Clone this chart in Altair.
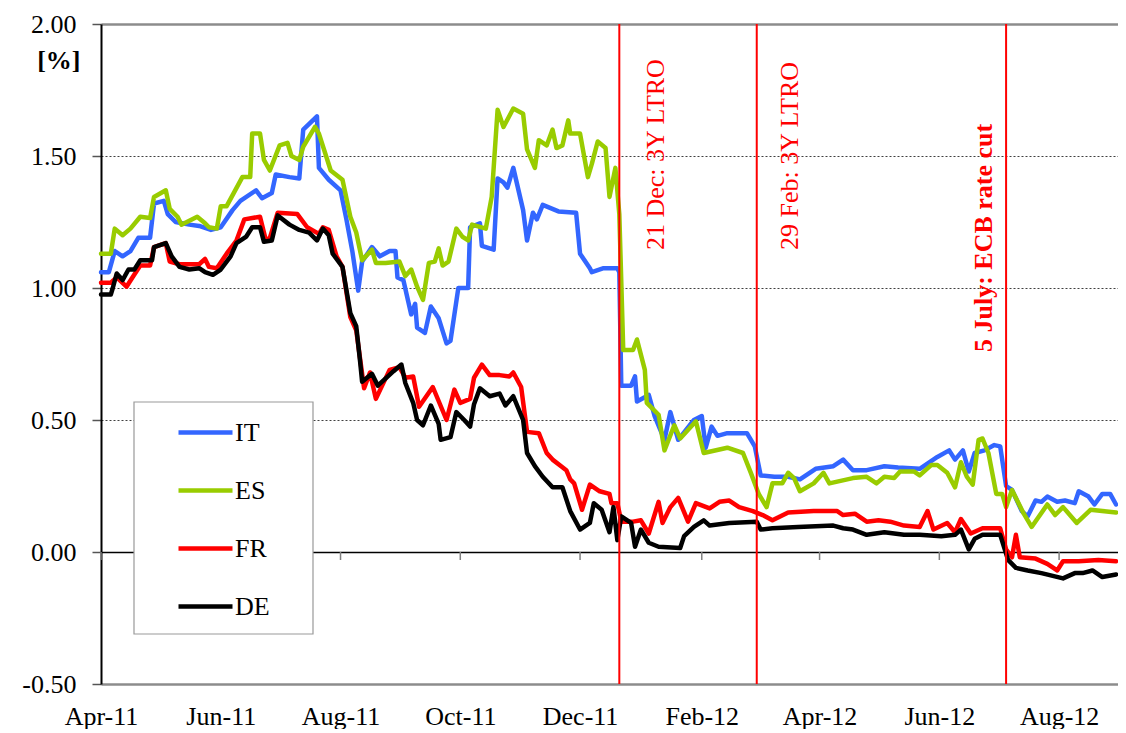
import altair as alt
import pandas as pd

FONT = "Liberation Serif"
START = "2011-04-01"
SERIES = ["IT", "ES", "FR", "DE"]
COLORS = ["#3366FF", "#99CC00", "#FF0000", "#000000"]

# (days after 1 Apr 2011, yield in %)
it_pts = [(0,1.06),(4,1.06),(7,1.14),(11,1.12),(15,1.14),(19,1.19),(25,1.19),(27,1.32),(32,1.33),(34,1.28),
          (38,1.25),(45,1.24),(50,1.235),(56,1.22),(61,1.23),(67,1.295),(71,1.33),(79,1.37),(82,1.34),(87,1.36),
          (89,1.43),(96,1.42),(101,1.415),(103,1.60),(110,1.65),(111,1.455),(116,1.41),(122,1.37),(125,1.26),
          (128,1.14),(131,0.99),(133,1.10),(138,1.155),(142,1.12),(147,1.14),(150,1.14),(151,1.04),(154,1.03),
          (158,0.90),(160,0.94),(161,0.85),(165,0.83),(168,0.93),(172,0.885),(176,0.79),(178,0.80),(182,1.00),
          (187,1.00),(188,1.23),(193,1.245),(194,1.16),(200,1.145),(202,1.415),(205,1.40),(207,1.38),(210,1.455),
          (215,1.295),(217,1.18),(220,1.285),(222,1.26),(225,1.315),(233,1.29),(242,1.285),(244,1.13),(249,1.075),
          (250,1.06),(256,1.075),(263,1.075),(264,1.06),(265,0.63),(270,0.63),(272,0.665),(273,0.57),(279,0.595),
          (282,0.515),(287,0.425),(290,0.53),(294,0.425),(302,0.50),(306,0.515),(308,0.395),(311,0.475),(314,0.44),
          (319,0.45),(329,0.45),(333,0.40),(336,0.29),(343,0.285),(350,0.285),(356,0.275),(364,0.315),(373,0.325),
          (378,0.35),(383,0.31),(390,0.31),(399,0.325),(406,0.32),(417,0.315),(426,0.36),(432,0.385),(435,0.35),
          (439,0.385),(442,0.305),(445,0.375),(450,0.385),(455,0.405),(458,0.40),(461,0.25),(464,0.235),(469,0.155),
          (472,0.135),(476,0.195),(479,0.19),(482,0.21),(487,0.19),(491,0.195),(496,0.185),(498,0.23),(503,0.21),
          (506,0.18),(510,0.22),(514,0.22),(517,0.18)]

es_pts = [(0,1.13),(5,1.13),(7,1.225),(11,1.20),(15,1.225),(20,1.27),(25,1.265),(27,1.345),(33,1.37),(35,1.30),
          (39,1.27),(41,1.24),(49,1.27),(53,1.245),(55,1.23),(59,1.225),(61,1.31),(64,1.31),(72,1.42),(76,1.42),
          (77,1.585),(81,1.585),(83,1.485),(86,1.445),(91,1.54),(95,1.55),(97,1.50),(101,1.485),(103,1.535),
          (109,1.61),(111,1.585),(117,1.445),(123,1.41),(127,1.27),(130,1.21),(133,1.105),(138,1.145),(140,1.095),
          (145,1.095),(152,1.10),(155,1.045),(158,1.07),(161,1.005),(164,0.955),(167,1.095),(170,1.10),(172,1.15),
          (174,1.085),(177,1.10),(181,1.225),(184,1.195),(187,1.18),(189,1.24),(196,1.225),(199,1.345),(202,1.675),
          (205,1.61),(210,1.68),(215,1.66),(217,1.525),(221,1.455),(223,1.56),(227,1.54),(230,1.60),(232,1.53),
          (235,1.54),(238,1.635),(239,1.585),(244,1.585),(248,1.42),(250,1.47),(253,1.555),(257,1.53),(259,1.345),
          (262,1.455),(264,1.28),(266,0.765),(271,0.765),(273,0.805),(277,0.69),(278,0.565),(284,0.52),(287,0.385),
          (292,0.48),(295,0.43),(303,0.495),(307,0.375),(319,0.395),(327,0.375),(331,0.30),(335,0.22),(339,0.17),
          (342,0.26),(347,0.26),(350,0.30),(353,0.28),(356,0.23),(363,0.26),(368,0.30),(371,0.26),(383,0.28),
          (390,0.285),(395,0.26),(399,0.285),(404,0.28),(407,0.305),(414,0.305),(417,0.29),(423,0.33),(426,0.33),
          (431,0.30),(435,0.245),(438,0.34),(441,0.285),(444,0.255),(447,0.425),(449,0.43),(452,0.375),(456,0.22),
          (459,0.22),(461,0.17),(464,0.235),(470,0.145),(474,0.095),(482,0.18),(486,0.14),(490,0.17),(497,0.11),
          (504,0.16),(517,0.15)]

fr_pts = [(0,1.02),(5,1.02),(8,1.04),(13,1.005),(16,1.04),(20,1.085),(25,1.085),(27,1.155),(33,1.17),(35,1.10),
          (40,1.09),(45,1.09),(50,1.09),(53,1.11),(55,1.08),(59,1.075),(64,1.13),(69,1.18),(73,1.26),(81,1.27),
          (84,1.18),(86,1.19),(90,1.285),(100,1.28),(105,1.23),(111,1.205),(113,1.23),(116,1.22),(120,1.12),
          (123,1.08),(127,0.89),(130,0.84),(132,0.73),(134,0.62),(137,0.68),(140,0.58),(147,0.69),(152,0.70),
          (155,0.66),(159,0.665),(162,0.55),(169,0.625),(176,0.50),(180,0.615),(183,0.565),(188,0.58),(190,0.66),
          (194,0.71),(198,0.67),(203,0.67),(208,0.665),(210,0.68),(214,0.625),(217,0.455),(223,0.45),(227,0.375),
          (230,0.35),(237,0.31),(239,0.275),(241,0.26),(245,0.16),(249,0.255),(254,0.23),(259,0.22),(260,0.185),
          (263,0.185),(265,0.115),(271,0.115),(275,0.12),(279,0.07),(284,0.19),(286,0.11),(290,0.17),(294,0.205),
          (299,0.115),(303,0.185),(310,0.165),(315,0.19),(320,0.195),(325,0.17),(332,0.155),(337,0.14),(342,0.12),
          (350,0.15),(363,0.155),(375,0.155),(378,0.14),(384,0.145),(390,0.115),(396,0.12),(402,0.115),(409,0.10),
          (417,0.095),(421,0.155),(424,0.085),(431,0.11),(435,0.075),(438,0.125),(443,0.07),(449,0.09),(458,0.09),
          (461,0.01),(464,-0.02),(466,0.065),(468,-0.02),(476,-0.025),(482,-0.045),(487,-0.07),(490,-0.035),
          (498,-0.035),(508,-0.03),(517,-0.035)]

de_pts = [(0,0.975),(5,0.975),(6,1.0),(8,1.055),(11,1.03),(14,1.07),(17,1.07),(20,1.105),(26,1.105),(27,1.155),
          (33,1.17),(36,1.12),(40,1.08),(45,1.07),(50,1.075),(53,1.06),(57,1.05),(61,1.07),(66,1.12),(69,1.17),
          (74,1.195),(77,1.23),(81,1.23),(83,1.175),(87,1.18),(90,1.275),(96,1.24),(101,1.22),(106,1.21),(110,1.18),
          (113,1.225),(116,1.20),(118,1.13),(123,1.08),(127,0.905),(130,0.855),(132,0.72),(133,0.645),(138,0.675),
          (141,0.63),(149,0.685),(153,0.71),(155,0.64),(159,0.565),(161,0.50),(164,0.48),(168,0.555),(172,0.485),
          (173,0.425),(178,0.435),(181,0.53),(185,0.50),(188,0.475),(190,0.56),(193,0.62),(198,0.59),(203,0.60),
          (206,0.555),(210,0.59),(215,0.50),(217,0.375),(221,0.325),(225,0.285),(230,0.245),(235,0.245),(239,0.155),
          (244,0.085),(249,0.11),(251,0.185),(255,0.16),(259,0.075),(261,0.17),(263,0.045),(265,0.135),(270,0.11),
          (272,0.02),(275,0.085),(279,0.035),(284,0.02),(295,0.015),(297,0.06),(302,0.095),(307,0.12),(310,0.10),
          (320,0.11),(334,0.115),(336,0.085),(342,0.09),(355,0.095),(373,0.10),(378,0.09),(383,0.085),(390,0.065),
          (399,0.075),(409,0.065),(417,0.065),(428,0.06),(435,0.065),(438,0.085),(442,0.01),(445,0.05),(449,0.065),
          (458,0.065),(462,-0.03),(466,-0.06),(472,-0.07),(479,-0.08),(490,-0.10),(496,-0.08),(500,-0.08),
          (505,-0.07),(510,-0.095),(517,-0.085)]

tick_months = [(2011, 4), (2011, 6), (2011, 8), (2011, 10), (2011, 12),
               (2012, 2), (2012, 4), (2012, 6), (2012, 8)]
y_ticks = [-0.5, 0.0, 0.5, 1.0, 1.5, 2.0]

event_dates = ["2011-12-21", "2012-02-29", "2012-07-05"]
event_labels = ["21 Dec: 3Y LTRO", "29 Feb: 3Y LTRO", "5 July: ECB rate cut"]

# ---------- build tables ----------
start = pd.Timestamp(START)
rows = []
for name, pts in zip(SERIES, [it_pts, es_pts, fr_pts, de_pts]):
    for d, v in pts:
        rows.append({"date": (start + pd.Timedelta(days=d)).strftime("%Y-%m-%d"),
                     "value": v, "series": name})
df = pd.DataFrame(rows)
events = pd.DataFrame({"date": event_dates, "label": event_labels})
ticks_df = pd.DataFrame({"date": [f"{y}-{m:02d}-01" for y, m in tick_months]})

x_scale = alt.Scale(type="utc", domain=[alt.DateTime(year=2011, month=4, date=1, utc=True),
                                        alt.DateTime(year=2012, month=8, date=31, utc=True)])
tick_values = [alt.DateTime(year=y, month=m, date=1, utc=True) for y, m in tick_months]

label_axis = alt.Axis(values=tick_values, labelExpr="utcFormat(datum.value, '%b-%y')",
                      labelFont=FONT, labelFontSize=26, labelColor="black",
                      labelPadding=19, ticks=False, tickSize=0, domain=False, grid=False,
                      title=None, labelFlush=False, labelOverlap=False)

border = "datum.value == 2 || datum.value == -0.5"
y_axis = alt.Axis(
    values=y_ticks,
    labelExpr="datum.value < 0 ? '-' + format(-datum.value, '.2f') : format(datum.value, '.2f')",
    labelFont=FONT, labelFontSize=26, labelColor="black", labelPadding=16,
    tickSize=9, tickColor="#555555", tickWidth=1.5,
    domainColor="#000000", domainWidth=2,
    grid=True,
    gridColor={"condition": [{"test": "datum.value == 0", "value": "#000000"},
                             {"test": border, "value": "#8c8c8c"}], "value": "#404040"},
    gridWidth={"condition": [{"test": "datum.value == 0", "value": 1.5},
                             {"test": border, "value": 2.5}], "value": 1},
    gridDash={"condition": {"test": "datum.value == 0 || " + border, "value": []}, "value": [2, 2]},
    title="[%]", titleAngle=0, titleAlign="right", titleBaseline="middle",
    titleX=-21, titleY=36, titleFont=FONT, titleFontSize=26, titleFontWeight="bold",
    titleColor="black",
)

legend = alt.Legend(
    title=None, orient="none", legendX=33, legendY=376, direction="vertical",
    symbolType="stroke", symbolSize=2916, symbolStrokeWidth=4.5, symbolOffset=39,
    labelFont=FONT, labelFontSize=26, labelColor="black", labelOffset=0,
    padding=3, rowPadding=15, zindex=3,
)

def xenc():
    return alt.X("date:T", scale=x_scale, axis=label_axis)

# legend frame (white box with grey border) drawn behind the legend entries
frame = alt.Chart(pd.DataFrame({"k": [0]})).mark_rect(
    fill="#FFFFFF", stroke="#999999", strokeWidth=1.2
).encode(x=alt.value(33), x2=alt.value(212), y=alt.value(378), y2=alt.value(610))

zero_ticks = alt.Chart(ticks_df).mark_rule(color="#808080", strokeWidth=1.5).encode(
    x=xenc(), y=alt.value(528), y2=alt.value(536),
)

lines = alt.Chart(df).mark_line(strokeWidth=4.5, strokeJoin="round", strokeCap="round").encode(
    x=xenc(),
    y=alt.Y("value:Q", scale=alt.Scale(domain=[-0.5, 2.0], nice=False, zero=False), axis=y_axis),
    color=alt.Color("series:N", scale=alt.Scale(domain=SERIES, range=COLORS), legend=legend),
    detail="series:N",
)

rules = alt.Chart(events).mark_rule(color="#FF0000", strokeWidth=2).encode(x=xenc())

def event_text(i, dy, bold, ypx):
    return alt.Chart(events.iloc[[i]]).mark_text(
        angle=270, align="left", baseline="alphabetic", dy=dy, font=FONT, fontSize=26,
        fontWeight="bold" if bold else "normal", color="#FF0000",
    ).encode(
        x=xenc(),
        y=alt.value(ypx),
        text="label:N",
    )

chart = alt.layer(
    zero_ticks, frame, lines, rules,
    event_text(0, 45, False, 226),
    event_text(1, 41, False, 226),
    event_text(2, -14, True, 328),
).properties(
    width=1017, height=660,
    padding={"left": 93, "top": 16, "right": 0, "bottom": 45},
    autosize=alt.AutoSizeParams(type="none"),
).configure_view(stroke=None)

chart.save("out.html", embed_options={"renderer": "svg", "actions": False})
